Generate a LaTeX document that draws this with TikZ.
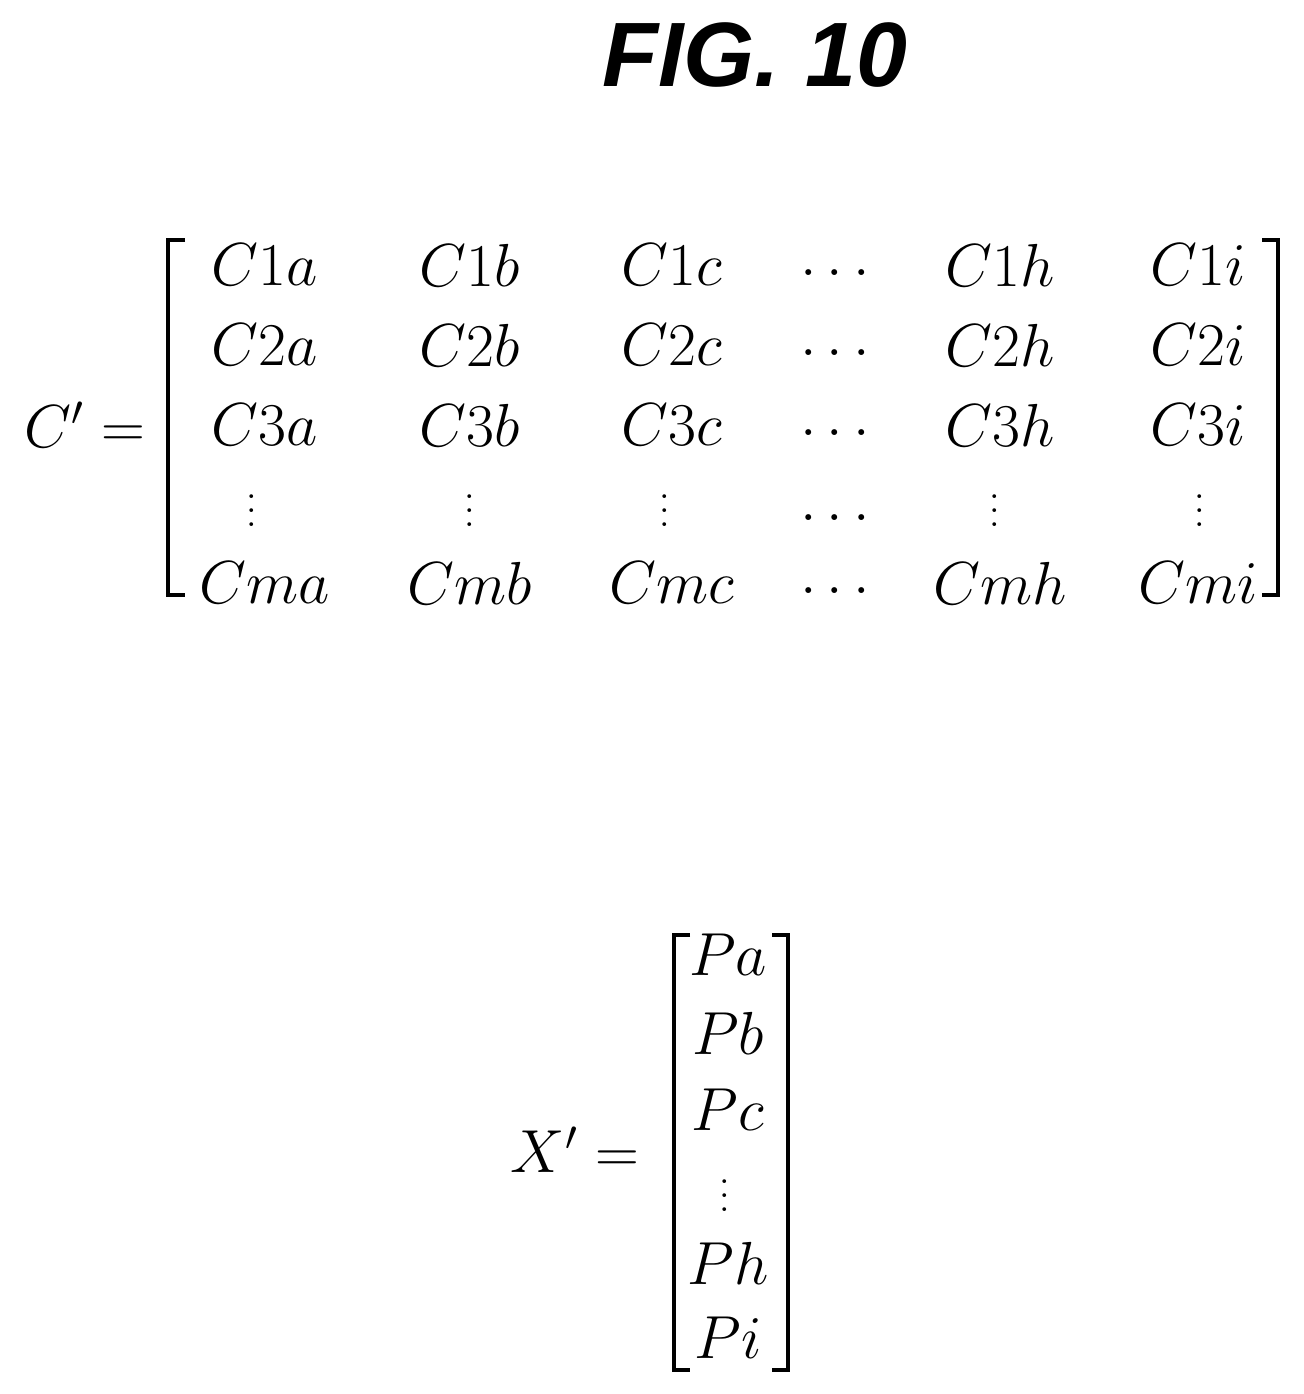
\documentclass[tikz,border=0pt]{standalone}
\usepackage{fontspec}
\newfontfamily\hv{Liberation Sans}
\begin{document}
\begin{tikzpicture}[x=0.01cm,y=-0.01cm,
  e/.style={font=\fontsize{17}{20}\selectfont, inner sep=0pt, anchor=center},
  vd/.style={font=\fontsize{11}{13}\selectfont, inner sep=0pt, anchor=center},
  br/.style={line width=1.2pt}]
\useasboundingbox (0,0) rectangle (1304,1394);
\node[font=\hv\bfseries\itshape\fontsize{26}{30}\selectfont] (fig) at (755,55) {FIG. 10};
\node[e] (cl) at (85,425) {$C' =$};
\draw[br] (185,240) -- (168,240) -- (168,595) -- (185,595);
\draw[br] (1262,240) -- (1278,240) -- (1278,595) -- (1262,595);
\foreach \r/\y/\t in {1/265/1,2/345/2,3/425/3,5/583/m}{
  \foreach \c/\x/\s in {1/265/a,2/470/b,3/672/c,5/1000/h,6/1198/i}{
    \node[e] (m\r\c) at (\x,\y) {$C\t\s$};}
  \node[e] (m\r4) at (835,\y+8) {$\ldots$};}
\foreach \c/\x in {1/252,2/470,3/665,5/995,6/1200}{\node[vd] (m4\c) at (\x,500) {$\vdots$};}
\node[e] (m44) at (835,518) {$\ldots$};
\node[e] (xl) at (575,1150) {$X' =$};
\draw[br] (690,935) -- (674,935) -- (674,1370) -- (690,1370);
\draw[br] (772,935) -- (788,935) -- (788,1370) -- (772,1370);
\foreach \i/\y/\s in {1/955/a,2/1033/b,3/1110/c,5/1263/h,6/1338/i}{\node[e] (p\i) at (728,\y) {$P\s$};}
\node[vd] (p4) at (725,1185) {$\vdots$};
\end{tikzpicture}
\end{document}
